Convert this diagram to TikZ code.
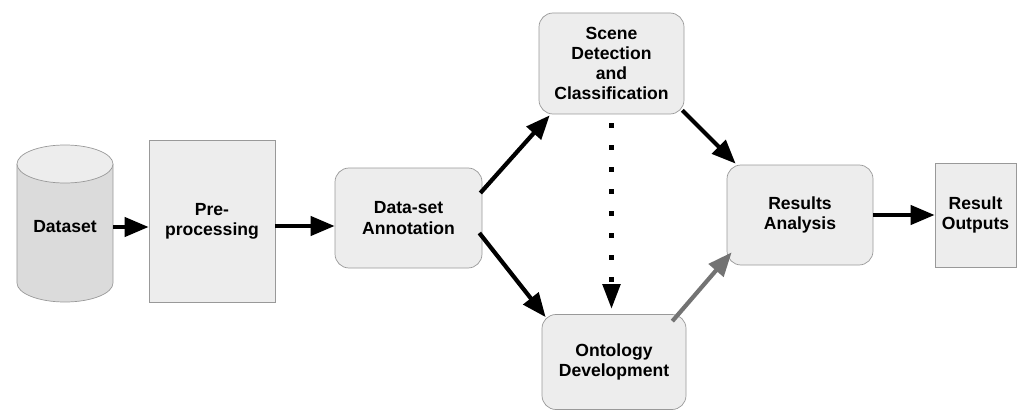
\documentclass[tikz,border=0pt]{standalone}
\usepackage{fontspec}
\setmainfont{Liberation Sans}
\usetikzlibrary{arrows.meta}

\begin{document}
\begin{tikzpicture}[
  every node/.style={font=\bfseries\fontsize{10}{11.5}\selectfont, align=center},
  box/.style={draw=black!40, fill=black!7, inner sep=0pt},
  rbox/.style={box, rounded corners=0.28cm, minimum width=2.92cm, minimum height=2cm},
  arr/.style={-{Triangle[length=0.48cm,width=0.38cm]}, line width=2.4pt}
]
  \useasboundingbox (0,0) rectangle (20.4,8.22);

  % database drum
  \draw[black!40, fill=black!14] (0.34,4.94) -- (0.34,2.56)
    arc[start angle=180, end angle=360, x radius=0.96cm, y radius=0.38cm] -- (2.26,4.94);
  \draw[black!40, fill=black!7] (1.3,4.94) ellipse[x radius=0.96cm, y radius=0.38cm];
  \coordinate (db) at (2.26,3.68);
  \node (data) at (1.3,3.68) {Dataset};

  \node[box, minimum width=2.52cm, minimum height=3.24cm] (prep) at (4.24,3.8) {Pre-\\processing};
  \node[rbox, minimum width=2.94cm] (annot) at (8.17,3.86) {Data-set\\Annotation};
  \node[rbox, minimum width=2.9cm, minimum height=2.02cm] (scene) at (12.23,6.95) {Scene\\Detection\\and\\Classification};
  \node[rbox, minimum width=2.88cm, minimum height=1.9cm] (onto) at (12.28,0.98) {Ontology\\Development};
  \node[rbox] (res) at (16,3.92) {Results\\Analysis};
  \node[box, minimum width=1.62cm, minimum height=2.08cm] (out) at (19.51,3.92) {Result\\Outputs};

  \draw[arr] (db) -- (data -| prep.west);
  \draw[arr] ([yshift=-0.1cm]prep.east) -- ([yshift=-0.1cm]prep.east -| annot.west);
  \draw[arr] ([xshift=-0.04cm,yshift=0.5cm]annot.east) -- ([xshift=0.22cm,yshift=-0.02cm]scene.south west);
  \draw[arr] ([xshift=-0.06cm,yshift=-0.3cm]annot.east) -- ([xshift=0.08cm,yshift=-0.06cm]onto.north west);
  \draw[line width=0.1cm, dash pattern=on 0.1cm off 0.34cm,
        -{Triangle[length=0.5cm,width=0.34cm]}, shorten <=0.18cm, shorten >=0.1cm]
    (scene.south) -- (scene.south |- onto.north);
  \draw[arr] ([xshift=-0.04cm,yshift=0.08cm]scene.south east) -- ([xshift=0.18cm,yshift=0.02cm]res.north west);
  \draw[arr, black!55] ([xshift=-0.28cm,yshift=-0.14cm]onto.north east) -- ([xshift=0.1cm,yshift=0.26cm]res.south west);
  \draw[arr] (res.east) -- (out.west);
\end{tikzpicture}
\end{document}
